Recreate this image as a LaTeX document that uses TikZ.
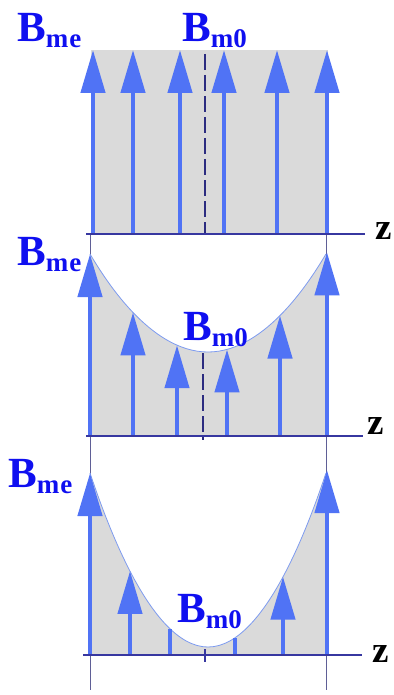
\documentclass[tikz,border=0pt]{standalone}
\usepackage{fontspec}
\setmainfont{Liberation Serif}
\usetikzlibrary{arrows.meta}

\definecolor{fieldblue}{RGB}{80,115,245}
\definecolor{axisblue}{RGB}{55,55,160}
\definecolor{labelblue}{RGB}{15,15,240}
\definecolor{mirrorgray}{RGB}{218,218,218}
\definecolor{curveblue}{RGB}{125,155,240}
\definecolor{guidegray}{RGB}{95,95,150}

\newcommand{\Bfield}[1]{{\fontsize{43}{43}\selectfont B}\raisebox{-6pt}{\fontsize{27}{27}\selectfont #1}}

\begin{document}
\begin{tikzpicture}[x=1pt, y=-1pt,
    field/.style={draw=fieldblue, line width=4.5pt, -{Triangle[length=43pt,width=24pt]}},
    fieldbar/.style={draw=fieldblue, line width=4pt},
    zaxis/.style={draw=axisblue, line width=2pt},
    midline/.style={draw=axisblue!80!black, line width=1.6pt, dash pattern=on 16pt off 5pt},
    guideline/.style={draw=guidegray, line width=0.8pt},
    rim/.style={draw=curveblue, line width=0.8pt},
    blbl/.style={text=labelblue, font=\bfseries, anchor=base west, inner sep=0pt},
    zlbl/.style={font=\bfseries\fontsize{37}{37}\selectfont, anchor=base west, inner sep=0pt}
  ]
  \useasboundingbox (0,0) rectangle (393,695);

  % guide lines at the mirror ends
  \draw[guideline] (90.5,234) -- (90.5,690);
  \draw[guideline] (326.5,234) -- (326.5,690);

  % top: uniform field
  \fill[mirrorgray] (91,50) rectangle (328,234);
  \foreach \x in {93,133,180,224,277,327}
    \draw[field] (\x,234) -- (\x,50);
  \draw[midline] (205,54) -- (205,233);
  \draw[zaxis] (86,234) -- (365,234);
  \node[blbl] (me1) at (17,42) {\Bfield{m\kern1pt e}};
  \node[blbl] (m01) at (182,42) {\Bfield{m0}};
  \node[zlbl] (z1) at (375,239) {z};

  % middle: shallow well
  \fill[mirrorgray] (90,436) -- (90,254) parabola bend (208,352) (326,254) -- (326,436) -- cycle;
  \draw[rim] (90,254) parabola bend (208,352) (326,254);
  \foreach \x in {90,133,177,227,280,327}
    \draw[field] (\x,436) -- (\x,{352-98*((\x-208)/118)^2});
  \draw[midline] (203,353) -- (203,440);
  \draw[zaxis] (86,436) -- (363,436);
  \node[blbl] (me2) at (17,265) {\Bfield{m\kern1pt e}};
  \node[blbl] (m02) at (183,340) {\Bfield{m0}};
  \node[zlbl] (z2) at (367,434) {z};

  % bottom: deep well
  \fill[mirrorgray] (90,655) -- (90,473) parabola bend (208,647) (326,473) -- (326,655) -- cycle;
  \draw[rim] (90,473) parabola bend (208,647) (326,473);
  \foreach \x in {90,130,283,327}
    \draw[field] (\x,655) -- (\x,{647-174*((\x-208)/118)^2});
  \foreach \x in {170,235}
    \draw[fieldbar] (\x,655) -- (\x,{647-174*((\x-208)/118)^2});
  \draw[zaxis] (83,655) -- (362,655);
  \draw[axisblue, line width=1.5pt] (205,649) -- (205,662);
  \node[blbl] (me3) at (8,487) {\Bfield{m\kern1pt e}};
  \node[blbl] (m03) at (177,622) {\Bfield{m0}};
  \node[zlbl] (z3) at (372,662) {z};
\end{tikzpicture}
\end{document}
